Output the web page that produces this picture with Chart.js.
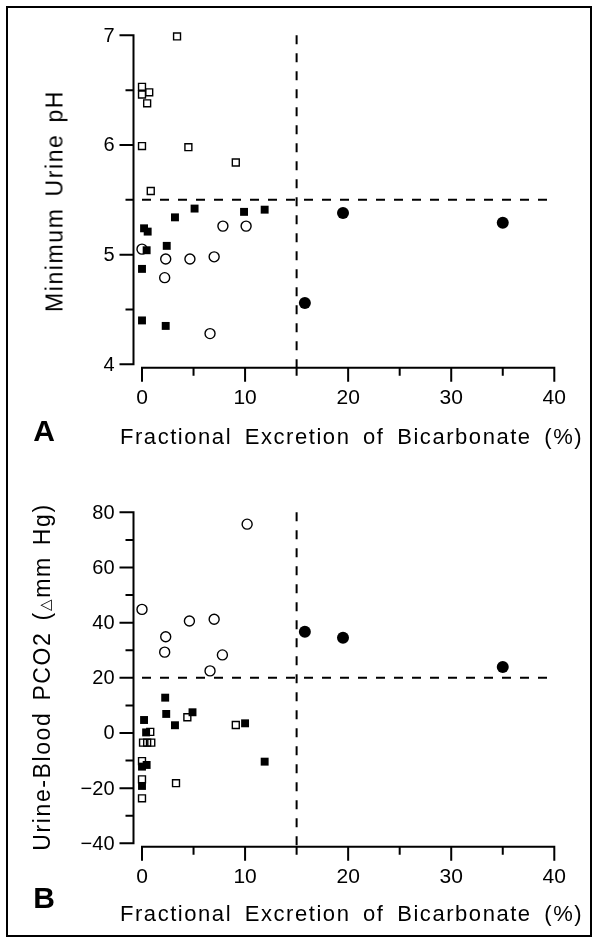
<!DOCTYPE html>
<html>
<head>
<meta charset="utf-8">
<script src="https://cdn.jsdelivr.net/npm/chart.js@4.4.1/dist/chart.umd.min.js"></script>
<style>
  html, body { margin: 0; padding: 0; background: #fff; }
  #wrap { position: relative; width: 598px; height: 942px; overflow: hidden;
          font-family: "Liberation Sans", Arial, Helvetica, sans-serif; color: #000; }
  canvas { position: absolute; left: 0; }
  #frame { position: absolute; left: 6px; top: 6px; width: 586px; height: 931px;
           border: 2px solid #000; box-sizing: border-box; }
  .xt { position: absolute; left: 120px; white-space: nowrap; font-size: 22px;
        letter-spacing: 1.55px; word-spacing: 5px; line-height: 22px; }
  .yt { position: absolute; white-space: nowrap; font-size: 23px; letter-spacing: 1.6px;
        word-spacing: 3px; line-height: 23px; transform: translate(-50%, -50%) rotate(-90deg); }
  .pl { position: absolute; font-size: 30px; font-weight: bold; line-height: 30px;
        transform: translate(-50%, -50%); }
</style>
</head>
<body>
<div id="wrap">
  <div id="frame"></div>
  <canvas id="chartA" width="598" height="470" style="top:0"></canvas>
  <canvas id="chartB" width="598" height="472" style="top:470px"></canvas>
  <div class="yt" style="left:55px; top:201px">Minimum Urine pH</div>
  <div class="xt" style="top:426px">Fractional Excretion of Bicarbonate (%)</div>
  <div class="pl" style="left:44px; top:431px">A</div>
  <div class="yt" style="left:43px; top:677px">Urine-Blood PCO2 (<span style="font-size:15px">&#9651;</span>mm Hg)</div>
  <div class="xt" style="top:903px">Fractional Excretion of Bicarbonate (%)</div>
  <div class="pl" style="left:44px; top:898px">B</div>
</div>
<script>
// shared x axis
const xTicks = [0, 10, 20, 30, 40]
const xMinor = [5, 15, 25, 35]
const cutoffFE = 15

// panel A: minimum urine pH
const phTicks = [4, 5, 6, 7]
const phMinor = [4.5, 5.5, 6.5]
const phCutoff = 5.5

const openSqA_x = [3.4, 0, 0, 0.7, 0.5, 0, 4.5, 9.1, 0.85]
const openSqA_y = [6.99, 6.53, 6.46, 6.48, 6.38, 5.99, 5.98, 5.84, 5.58]
const fillSqA_x = [0.2, 0.55, 0.45, 0, 2.4, 3.2, 5.1, 9.9, 11.9, 0, 2.3]
const fillSqA_y = [5.24, 5.21, 5.04, 4.87, 5.08, 5.34, 5.42, 5.39, 5.41, 4.40, 4.35]
const openCiA_x = [0, 2.3, 4.65, 7.0, 2.2, 7.85, 10.1, 6.6]
const openCiA_y = [5.05, 4.96, 4.96, 4.98, 4.79, 5.26, 5.26, 4.28]
const fillCiA_x = [15.8, 19.5, 35.0]
const fillCiA_y = [4.56, 5.38, 5.29]

// panel B: urine-blood PCO2
const pco2Ticks = [-40, -20, 0, 20, 40, 60, 80]
const pco2Minor = [-30, -10, 10, 30, 50, 70]
const pco2Cutoff = 20

const openSqB_x = [0.8, 0.1, 0.5, 0.9, 4.4, 9.1, 3.3, 0, 0, 0]
const openSqB_y = [0.4, -3.5, -3.5, -3.5, 5.7, 2.9, -18.2, -10.2, -16.8, -23.7]
const fillSqB_x = [2.25, 2.35, 3.2, 4.9, 0.2, 0.4, 10.0, 11.9, 0.45, 0, 0]
const fillSqB_y = [12.8, 6.9, 2.8, 7.5, 4.7, 0.2, 3.5, -10.4, -11.6, -12.2, -19.2]
const openCiB_x = [0, 2.3, 2.2, 4.6, 7.0, 7.8, 6.6, 10.2]
const openCiB_y = [44.8, 34.9, 29.3, 40.6, 41.2, 28.3, 22.5, 75.7]
const fillCiB_x = [15.8, 19.5, 35.0]
const fillCiB_y = [36.7, 34.5, 23.9]


function pts(xs, ys) {
  return xs.map((x, i) => ({x: x, y: ys[i]}))
}

function markers(xs, ys, style, filled, r) {
  return {
    type: 'scatter',
    data: pts(xs, ys),
    pointStyle: style,
    pointRadius: r,
    pointHoverRadius: r,
    borderWidth: filled ? 0 : 1.4,
    borderColor: '#000',
    backgroundColor: filled ? '#000' : 'rgba(0,0,0,0)',
    clip: false
  }
}

function dashed(data) {
  return {
    type: 'line',
    data: data,
    borderColor: '#000',
    borderWidth: 2,
    borderDash: [9, 9],
    pointRadius: 0,
    fill: false,
    clip: false
  }
}

// draws the detached axes (y axis left of x=0, x axis under the lowest tick)
const detachedAxes = {
  id: 'detachedAxes',
  afterDatasetsDraw(chart, args, o) {
    const ctx = chart.ctx
    const xs = chart.scales.x, ys = chart.scales.y
    const area = chart.chartArea
    const ax = area.left - 8.5
    const ay = area.bottom + 3.5
    ctx.save()
    ctx.strokeStyle = '#000'
    ctx.fillStyle = '#000'
    ctx.lineWidth = 2

    ctx.beginPath()
    ctx.moveTo(ax, ys.getPixelForValue(o.yTicks[o.yTicks.length - 1]) - 1)
    ctx.lineTo(ax, ys.getPixelForValue(o.yTicks[0]) + 1)
    ctx.moveTo(xs.getPixelForValue(xTicks[0]) - 1, ay)
    ctx.lineTo(xs.getPixelForValue(xTicks[xTicks.length - 1]) + 1, ay)
    o.yTicks.forEach(v => {
      const p = ys.getPixelForValue(v)
      ctx.moveTo(ax - 14, p); ctx.lineTo(ax, p)
    })
    o.yMinor.forEach(v => {
      const p = ys.getPixelForValue(v)
      ctx.moveTo(ax - 8, p); ctx.lineTo(ax, p)
    })
    xTicks.forEach(v => {
      const p = xs.getPixelForValue(v)
      ctx.moveTo(p, ay); ctx.lineTo(p, ay + 14)
    })
    xMinor.forEach(v => {
      const p = xs.getPixelForValue(v)
      ctx.moveTo(p, ay); ctx.lineTo(p, ay + 8)
    })
    ctx.stroke()

    ctx.font = '20px "Liberation Sans", Arial, sans-serif'
    ctx.textAlign = 'right'
    ctx.textBaseline = 'middle'
    o.yTicks.forEach(v => {
      ctx.fillText(String(v).replace('-', '\u2212'), ax - 19, ys.getPixelForValue(v) + 1)
    })
    ctx.font = '21px "Liberation Sans", Arial, sans-serif'
    ctx.textAlign = 'center'
    xTicks.forEach(v => {
      ctx.fillText(String(v), xs.getPixelForValue(v), ay + 30)
    })
    ctx.restore()
  }
}

function makeChart(id, sets, yMin, yMax, yTicks, yMinor, pad) {
  return new Chart(document.getElementById(id), {
    data: { datasets: sets },
    options: {
      responsive: false,
      animation: false,
      events: [],
      layout: { padding: pad },
      plugins: {
        legend: { display: false },
        tooltip: { enabled: false },
        detachedAxes: { yTicks: yTicks, yMinor: yMinor }
      },
      scales: {
        x: { type: 'linear', min: 0, max: 40, display: false },
        y: { type: 'linear', min: yMin, max: yMax, display: false }
      }
    },
    plugins: [detachedAxes]
  })
}

makeChart('chartA', [
  dashed([{x: 0, y: phCutoff}, {x: 40, y: phCutoff}]),
  dashed([{x: cutoffFE, y: 7}, {x: cutoffFE, y: 3.97}]),
  markers(openSqA_x, openSqA_y, 'rect', false, 4.9),
  markers(fillSqA_x, fillSqA_y, 'rect', true, 5.6),
  markers(openCiA_x, openCiA_y, 'circle', false, 5),
  markers(fillCiA_x, fillCiA_y, 'circle', true, 6)
], 4, 7, phTicks, phMinor, {left: 142, right: 43.7, top: 35.3, bottom: 105.7})

makeChart('chartB', [
  dashed([{x: 0, y: pco2Cutoff}, {x: 40, y: pco2Cutoff}]),
  dashed([{x: cutoffFE, y: 80}, {x: cutoffFE, y: -41.2}]),
  markers(openSqB_x, openSqB_y, 'rect', false, 4.9),
  markers(fillSqB_x, fillSqB_y, 'rect', true, 5.6),
  markers(openCiB_x, openCiB_y, 'circle', false, 5),
  markers(fillCiB_x, fillCiB_y, 'circle', true, 6)
], -40, 80, pco2Ticks, pco2Minor, {left: 142, right: 43.7, top: 42.3, bottom: 98.7})
</script>
</body>
</html>
